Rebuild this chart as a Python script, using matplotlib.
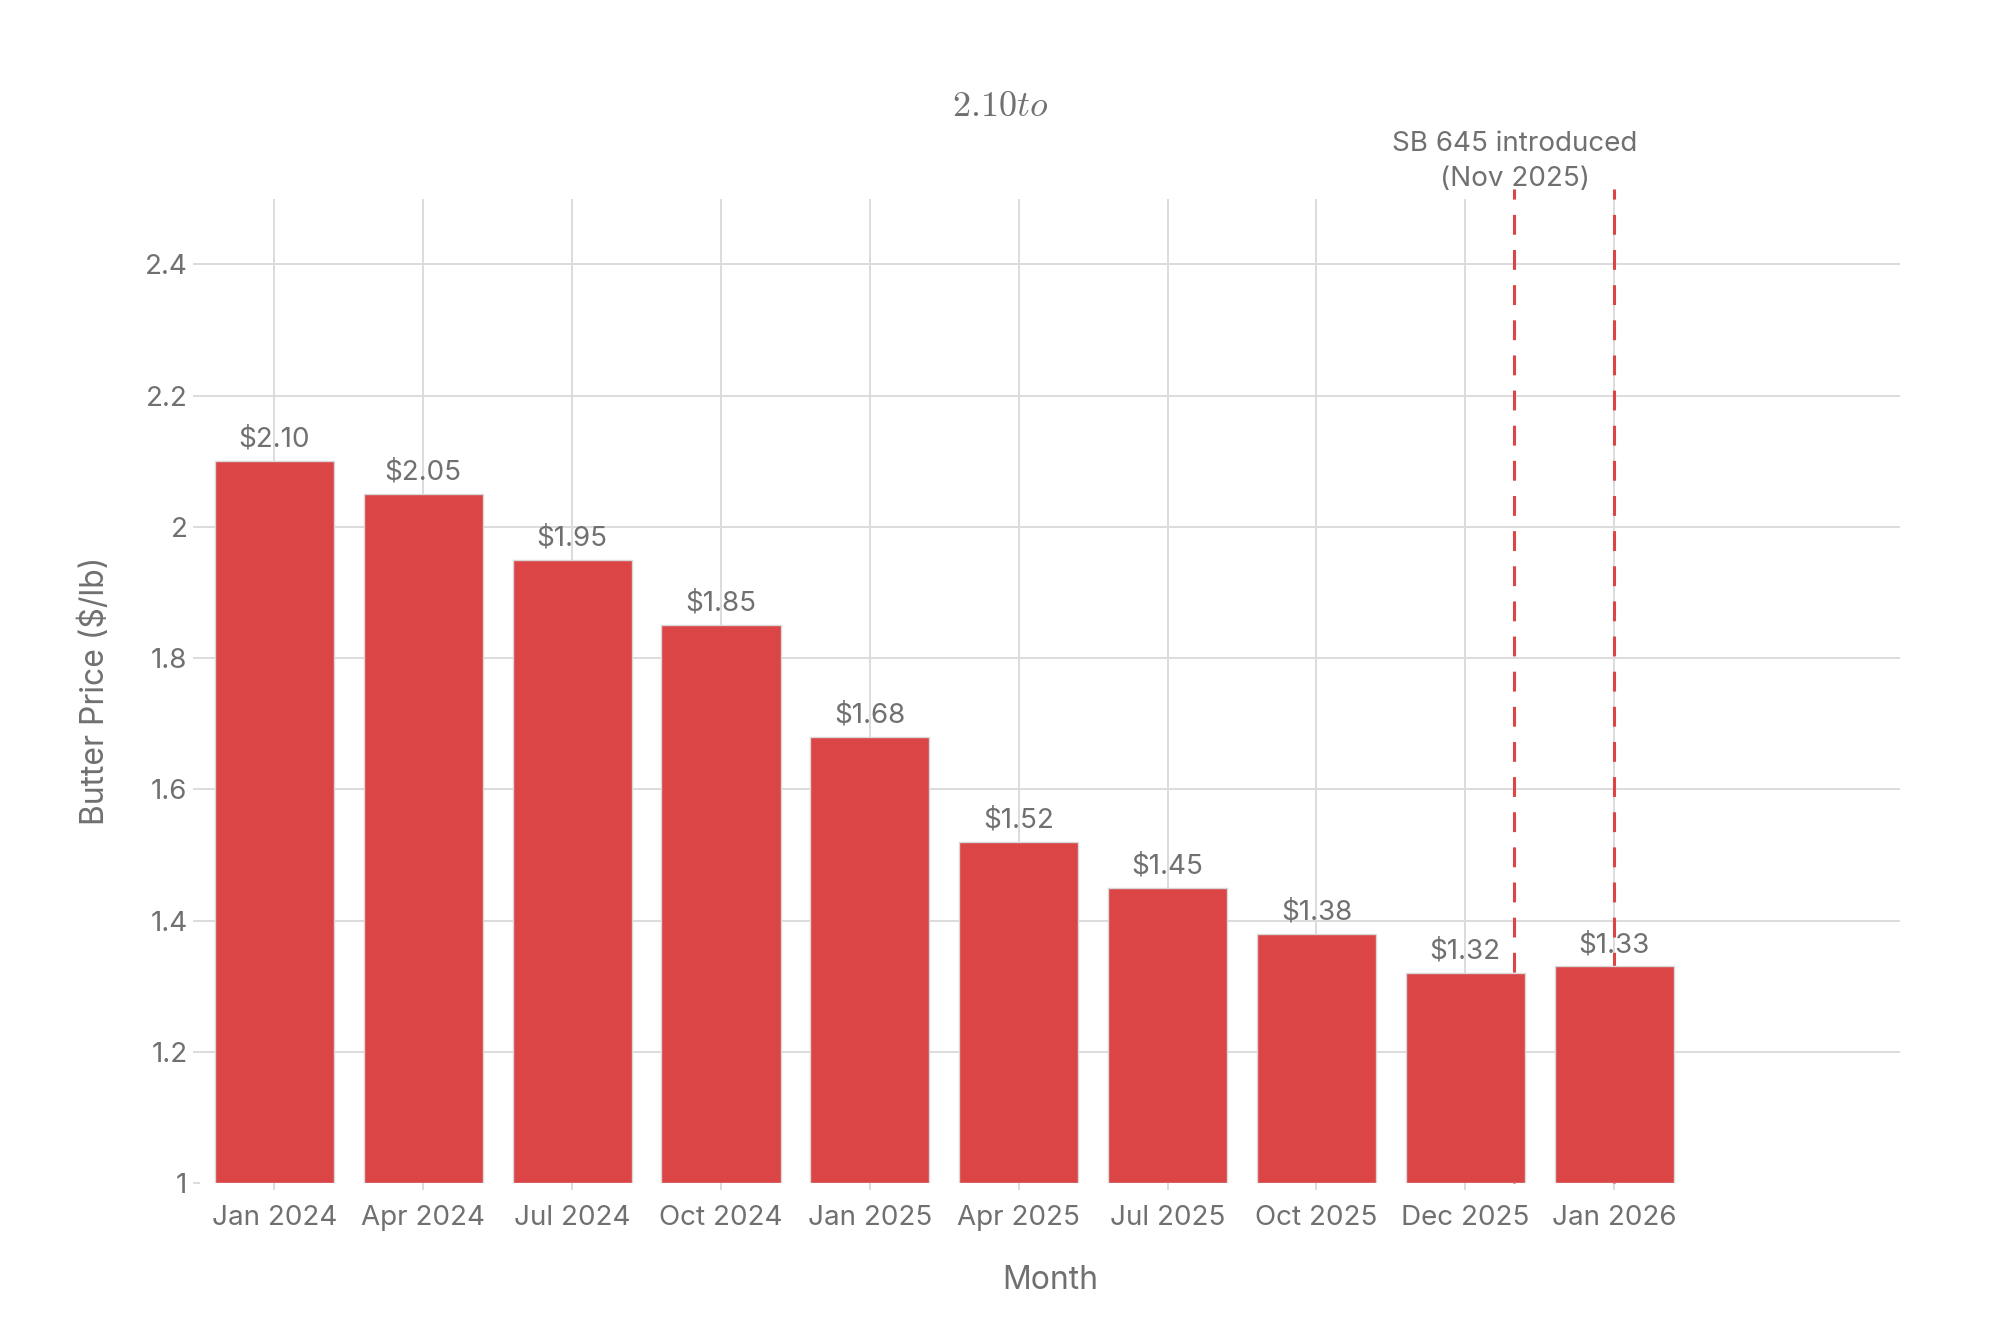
import matplotlib
matplotlib.use('Agg')
import matplotlib.pyplot as plt
from matplotlib.ticker import FuncFormatter

plt.rcParams['font.family'] = ['Inter', 'DejaVu Sans']
plt.rcParams['mathtext.fontset'] = 'cm'

months = ['Jan 2024', 'Apr 2024', 'Jul 2024', 'Oct 2024', 'Jan 2025',
          'Apr 2025', 'Jul 2025', 'Oct 2025', 'Dec 2025', 'Jan 2026']
prices = [2.10, 2.05, 1.95, 1.85, 1.68, 1.52, 1.45, 1.38, 1.32, 1.33]

# event markers (category positions)
sb645_pos = 8.33
latest_pos = 9
y_ticks = [1, 1.2, 1.4, 1.6, 1.8, 2, 2.2, 2.4]

bar_color = '#DB4545'
text_color = '#707070'
grid_color = '#dcdcdc'

fig = plt.figure(figsize=(10, 6.665), dpi=200)
ax = fig.add_axes([0.1, 0.1125, 0.85, 0.7385])

x = list(range(len(months)))
ax.bar(x, [p - 1 for p in prices], bottom=1, width=0.8, color=bar_color,
       edgecolor='#d8d8d8', linewidth=0.5, zorder=3)

for xi, p in zip(x, prices):
    ax.annotate('\\$%.2f' % p, (xi, p), xytext=(0, 3), textcoords='offset points',
                ha='center', va='bottom', fontsize=10, color=text_color, zorder=5)

# dashed event lines
for pos in [sb645_pos, latest_pos]:
    ax.plot([pos, pos], [1, 2.515], color=bar_color, lw=1.1, dashes=(6.5, 5),
            zorder=2, clip_on=False)

ax.text(sb645_pos, 2.51, 'SB 645 introduced\n(Nov 2025)', ha='center', va='bottom',
        fontsize=10, color=text_color, linespacing=1.45)

ax.set_xlim(-0.5, 10.92)
ax.set_ylim(1, 2.5)
ax.set_xticks(x)
ax.set_xticklabels(months)
ax.set_yticks(y_ticks)
ax.yaxis.set_major_formatter(FuncFormatter(lambda v, _: ('%.1f' % v).rstrip('0').rstrip('.')))

ax.grid(True, color=grid_color, lw=0.7, zorder=0)
ax.yaxis.get_gridlines()[0].set_visible(False)
for s in ax.spines.values():
    s.set_visible(False)
ax.tick_params(axis='both', colors=grid_color, length=2.5, width=0.7,
               labelcolor=text_color, labelsize=10)
ax.tick_params(axis='y', pad=2)
ax.tick_params(axis='x', pad=5.5)

ax.set_xlabel('Month', fontsize=11.5, color=text_color, labelpad=12)
ax.set_ylabel('Butter Price (\\$/lb)', fontsize=11.5, color=text_color, labelpad=12)

fig.text(0.5, 0.92, r'$2.10to$', ha='center', va='center', fontsize=13, color=text_color)

fig.savefig('out.png', dpi=200, facecolor='white')
